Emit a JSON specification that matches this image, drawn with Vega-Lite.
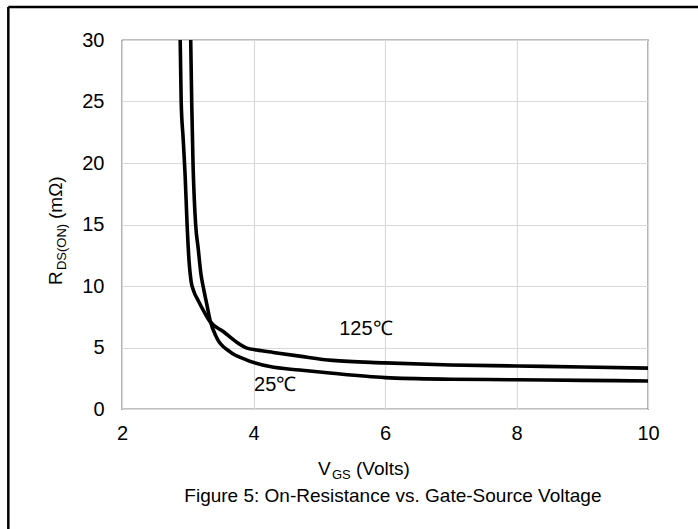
{
  "$schema": "https://vega.github.io/schema/vega-lite/v6.json",
  "width": 526,
  "height": 369,
  "autosize": {"type": "none"},
  "padding": {"left": 122, "top": 40, "right": 50, "bottom": 120},
  "background": "white",
  "config": {
    "font": "Liberation Sans",
    "view": {"stroke": "#000000", "strokeWidth": 1.2},
    "axis": {"labelFont": "Liberation Sans", "labelColor": "#000000", "labelFontSize": 20, "gridColor": "#d9d9d9", "gridWidth": 1.2, "domain": false, "ticks": false}
  },
  "datasets": {
    "curves": [
      {"series": "125℃", "v": 2.885, "r": 30},
      {"series": "125℃", "v": 2.9, "r": 25},
      {"series": "125℃", "v": 2.93, "r": 22},
      {"series": "125℃", "v": 2.96, "r": 19},
      {"series": "125℃", "v": 2.99, "r": 15},
      {"series": "125℃", "v": 3.02, "r": 12},
      {"series": "125℃", "v": 3.05, "r": 10.4},
      {"series": "125℃", "v": 3.09, "r": 9.6},
      {"series": "125℃", "v": 3.16, "r": 8.8},
      {"series": "125℃", "v": 3.26, "r": 7.8},
      {"series": "125℃", "v": 3.34, "r": 7.1},
      {"series": "125℃", "v": 3.54, "r": 6.3},
      {"series": "125℃", "v": 3.74, "r": 5.45},
      {"series": "125℃", "v": 3.9, "r": 4.95},
      {"series": "125℃", "v": 4.05, "r": 4.8},
      {"series": "125℃", "v": 4.3, "r": 4.6},
      {"series": "125℃", "v": 4.7, "r": 4.3},
      {"series": "125℃", "v": 5.2, "r": 3.95},
      {"series": "125℃", "v": 6.0, "r": 3.75},
      {"series": "125℃", "v": 7.0, "r": 3.58},
      {"series": "125℃", "v": 8.0, "r": 3.5},
      {"series": "125℃", "v": 9.0, "r": 3.42},
      {"series": "125℃", "v": 10.0, "r": 3.32},
      {"series": "25℃", "v": 3.045, "r": 30},
      {"series": "25℃", "v": 3.06, "r": 25},
      {"series": "25℃", "v": 3.08, "r": 20},
      {"series": "25℃", "v": 3.1, "r": 17},
      {"series": "25℃", "v": 3.12, "r": 15},
      {"series": "25℃", "v": 3.16, "r": 13},
      {"series": "25℃", "v": 3.2, "r": 11},
      {"series": "25℃", "v": 3.24, "r": 9.8},
      {"series": "25℃", "v": 3.29, "r": 8.5},
      {"series": "25℃", "v": 3.34, "r": 7.2},
      {"series": "25℃", "v": 3.44, "r": 5.8},
      {"series": "25℃", "v": 3.64, "r": 4.66},
      {"series": "25℃", "v": 3.9, "r": 3.98},
      {"series": "25℃", "v": 4.25, "r": 3.45},
      {"series": "25℃", "v": 4.7, "r": 3.17},
      {"series": "25℃", "v": 5.2, "r": 2.9},
      {"series": "25℃", "v": 6.0, "r": 2.55},
      {"series": "25℃", "v": 7.0, "r": 2.42},
      {"series": "25℃", "v": 8.0, "r": 2.38},
      {"series": "25℃", "v": 9.0, "r": 2.33},
      {"series": "25℃", "v": 10.0, "r": 2.28}
    ],
    "labels": [
      {"label": "125℃", "v": 5.71, "r": 6.5},
      {"label": "25℃", "v": 4.33, "r": 1.95}
    ],
    "one": [{}]
  },
  "layer": [
    {
      "data": {"name": "curves"},
      "mark": {"type": "line", "interpolate": "monotone", "color": "#000000", "strokeWidth": 3.6, "clip": true},
      "encoding": {
        "x": {"field": "v", "type": "quantitative", "scale": {"domain": [2, 10], "nice": false, "zero": false}, "axis": {"values": [2, 4, 6, 8, 10], "format": "d", "title": null, "labelPadding": 14, "labelFlush": false, "labelOverlap": false}},
        "y": {"field": "r", "type": "quantitative", "scale": {"domain": [0, 30], "nice": false}, "axis": {"values": [0, 5, 10, 15, 20, 25, 30], "format": "d", "title": null, "labelPadding": 18, "labelOverlap": false}},
        "detail": {"field": "series", "type": "nominal"}
      }
    },
    {
      "data": {"name": "labels"},
      "mark": {"type": "text", "fontSize": 20, "font": "Liberation Sans", "color": "#000000", "align": "center", "baseline": "middle"},
      "encoding": {
        "x": {"field": "v", "type": "quantitative"},
        "y": {"field": "r", "type": "quantitative"},
        "text": {"field": "label"}
      }
    },
    {
      "data": {"name": "one"},
      "mark": {"type": "text", "text": "V", "fontSize": 19, "align": "left", "baseline": "alphabetic", "clip": false, "color": "#000000"},
      "encoding": {"x": {"datum": 4.98}, "y": {"datum": -5.37}}
    },
    {
      "data": {"name": "one"},
      "mark": {"type": "text", "text": "GS", "fontSize": 13, "align": "left", "baseline": "alphabetic", "dx": 14, "dy": 4, "clip": false, "color": "#000000"},
      "encoding": {"x": {"datum": 4.98}, "y": {"datum": -5.37}}
    },
    {
      "data": {"name": "one"},
      "mark": {"type": "text", "text": "(Volts)", "fontSize": 19, "align": "left", "baseline": "alphabetic", "dx": 38, "clip": false, "color": "#000000"},
      "encoding": {"x": {"datum": 4.98}, "y": {"datum": -5.37}}
    },
    {
      "data": {"name": "one"},
      "mark": {"type": "text", "text": "R", "fontSize": 19, "angle": 270, "align": "left", "baseline": "alphabetic", "clip": false, "color": "#000000"},
      "encoding": {"x": {"datum": 1.083}, "y": {"datum": 10.08}}
    },
    {
      "data": {"name": "one"},
      "mark": {"type": "text", "text": "DS(ON)", "fontSize": 13, "angle": 270, "align": "left", "baseline": "alphabetic", "dx": 15, "dy": 4, "clip": false, "color": "#000000"},
      "encoding": {"x": {"datum": 1.083}, "y": {"datum": 10.08}}
    },
    {
      "data": {"name": "one"},
      "mark": {"type": "text", "text": "(mΩ)", "fontSize": 19, "angle": 270, "align": "left", "baseline": "alphabetic", "dx": 66, "clip": false, "color": "#000000"},
      "encoding": {"x": {"datum": 1.083}, "y": {"datum": 10.08}}
    },
    {
      "data": {"name": "one"},
      "mark": {"type": "text", "text": "Figure 5: On-Resistance vs. Gate-Source Voltage", "fontSize": 19, "align": "center", "baseline": "alphabetic", "clip": false, "color": "#000000"},
      "encoding": {"x": {"datum": 6.12}, "y": {"datum": -7.56}}
    },
    {
      "data": {"name": "one"},
      "mark": {"type": "rule", "color": "#000000", "strokeWidth": 2.5, "clip": false},
      "encoding": {"x": {"datum": 0.271}, "x2": {"datum": 10.8}, "y": {"datum": 32.68}}
    },
    {
      "data": {"name": "one"},
      "mark": {"type": "rule", "color": "#000000", "strokeWidth": 2.5, "clip": false},
      "encoding": {"x": {"datum": 0.271}, "y": {"datum": 32.68}, "y2": {"datum": -10}}
    }
  ]
}
